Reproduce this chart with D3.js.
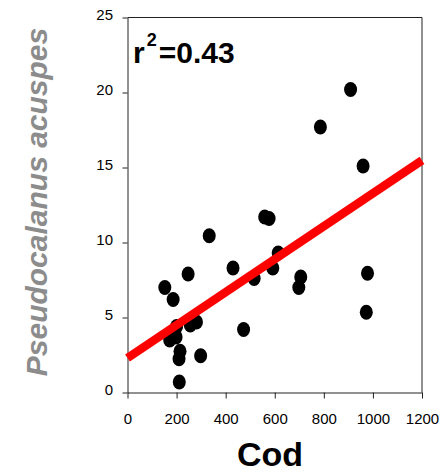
<!DOCTYPE html>
<html>
<head>
<meta charset="utf-8">
<script src="https://cdn.jsdelivr.net/npm/d3@7"></script>
<style>
  body { margin: 0; background: #fff; }
  svg { display: block; font-family: Arial, "Liberation Sans", sans-serif; }
</style>
</head>
<body>
<svg id="chart" width="448" height="473"></svg>
<script>
// cod abundance (x) vs Pseudocalanus acuspes (y)
const codValues = [152, 186, 247, 333, 430, 516, 559, 577, 614, 592, 706, 698, 786, 909, 960, 978, 973, 473, 298, 211, 214, 210, 281, 256, 172, 200, 198, 268];
const pseudoValues = [7.0, 6.2, 7.9, 10.45, 8.3, 7.6, 11.7, 11.6, 9.3, 8.3, 7.7, 7.0, 17.7, 20.2, 15.1, 7.95, 5.35, 4.2, 2.45, 0.7, 2.75, 2.25, 4.7, 4.5, 3.5, 4.4, 3.7, 4.8];

// fitted line
const fitIntercept = 2.3;
const fitSlope = 0.01098;
const fitRange = [0, 1200];

const xTicks = [0, 200, 400, 600, 800, 1000, 1200];
const yTicks = [0, 5, 10, 15, 20, 25];

const svg = d3.select("#chart");

const margin = {left: 127.5, right: 26, top: 17.5, bottom: 80.5};
const width = 448, height = 473;

const x = d3.scaleLinear()
  .domain([0, 1200])
  .range([margin.left, width - margin.right]);

const y = d3.scaleLinear()
  .domain([0, 25])
  .range([height - margin.bottom, margin.top]);

/** Axes
------------------------------------------------------------*/

const xAxis = svg.append("g")
  .attr("transform", "translate(0," + y(0) + ")")
  .call(d3.axisBottom(x).tickValues(xTicks).tickFormat(d3.format("d"))
    .tickSize(6).tickPadding(15).tickSizeOuter(0));

const yAxis = svg.append("g")
  .attr("transform", "translate(" + x(0) + ",0)")
  .call(d3.axisLeft(y).tickValues(yTicks).tickFormat(d3.format("d"))
    .tickSize(5).tickPadding(9.5).tickSizeOuter(0));

[xAxis, yAxis].forEach(function (a) {
  a.select(".domain").attr("stroke", "#222");
  a.selectAll(".tick line").attr("stroke", "#222");
  a.selectAll(".tick text")
    .attr("fill", "#000")
    .attr("font-size", 15)
    .attr("font-family", "Arial, 'Liberation Sans', sans-serif");
});

// y labels sit a little above their ticks
yAxis.selectAll(".tick text").attr("dy", "0.15em");

// top and right frame
svg.append("path")
  .attr("d", "M" + x(0) + "," + y(25) + "H" + x(1200) + "V" + y(0))
  .attr("fill", "none")
  .attr("stroke", "#222");

/** Points and fit
------------------------------------------------------------*/

const pts = codValues.map((c, i) => ({cod: c, pseudo: pseudoValues[i]}));

svg.append("g")
  .selectAll("ellipse")
  .data(pts)
  .enter().append("ellipse")
  .attr("cx", d => x(d.cod))
  .attr("cy", d => y(d.pseudo))
  .attr("rx", 6.5)
  .attr("ry", 7.5)
  .attr("fill", "#000");

svg.append("line")
  .attr("x1", x(fitRange[0]))
  .attr("y1", y(fitIntercept + fitSlope * fitRange[0]))
  .attr("x2", x(fitRange[1]))
  .attr("y2", y(fitIntercept + fitSlope * fitRange[1]))
  .attr("stroke", "#ff0000")
  .attr("stroke-width", 8.5);

/** Labels
------------------------------------------------------------*/

const r2 = svg.append("text")
  .attr("x", 133)
  .attr("y", 62.5)
  .attr("font-size", 30)
  .attr("font-weight", "bold")
  .attr("fill", "#000");
r2.append("tspan").text("r");
r2.append("tspan").attr("font-size", 18).attr("dx", 2).attr("dy", -17).text("2");
r2.append("tspan").attr("dx", 2).attr("dy", 17).text("=0.43");

svg.append("text")
  .attr("x", 270)
  .attr("y", 466)
  .attr("text-anchor", "middle")
  .attr("font-size", 34)
  .attr("font-weight", "bold")
  .attr("fill", "#000")
  .text("Cod");

svg.append("text")
  .attr("transform", "translate(47,202) rotate(-90)")
  .attr("text-anchor", "middle")
  .attr("font-size", 30)
  .attr("font-weight", "bold")
  .attr("font-style", "italic")
  .attr("fill", "#8c8c8c")
  .text("Pseudocalanus acuspes");
</script>
</body>
</html>
